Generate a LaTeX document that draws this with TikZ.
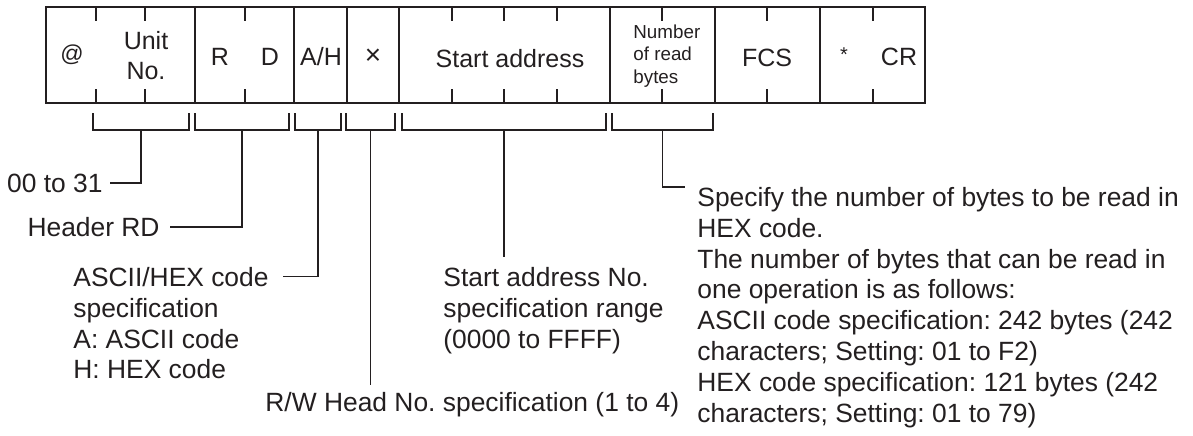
\documentclass[tikz,border=0pt]{standalone}
\usepackage{fontspec}
\setmainfont{Liberation Sans}
\definecolor{ink}{HTML}{231F20}
\frenchspacing

\begin{document}
\begin{tikzpicture}[x=0.5pt, y=-0.5pt, ink,
    frame/.style={line width=1pt, ink},
    lead/.style={line width=0.6pt, ink},
    cell/.style={font=\fontsize{12.5}{15}\selectfont, inner sep=0pt},
    lbl/.style={font=\fontsize{13.2}{15.4}\selectfont, align=left, inner sep=0pt}]
  \useasboundingbox (0,0) rectangle (1193,435);

  % frame with fields and character ticks
  \draw[frame] (46,7) rectangle (925,103);
  \foreach \x in {195,294,347,399,610,715,820}
    \draw[frame] (\x,7) -- (\x,103);
  \foreach \x in {96,145,245,452,504,557,662,767,873} {
    \draw[frame] (\x,7) -- (\x,21);
    \draw[frame] (\x,89) -- (\x,103);
  }

  \node[cell, font=\fontsize{11.5}{13}\selectfont] (at) at (72,55) {@};
  \node[cell, align=center] (unit) at (146,56) {Unit\\No.};
  \node[cell] (hdr r) at (220,57) {R};
  \node[cell] (hdr d) at (270,57) {D};
  \node[cell] (ah) at (321,57) {A/H};
  \node[cell, font=\fontsize{14}{16}\selectfont] (times) at (373,57) {×};
  \node[cell] (start) at (510,59) {Start address};
  \node[cell, font=\fontsize{9.4}{11.2}\selectfont, align=left, anchor=west]
    (nbytes) at (633,56) {Number\\of read\\bytes};
  \node[cell] (fcs) at (767,58) {FCS};
  \node[cell, font=\fontsize{10}{12}\selectfont] (star) at (844,55) {*};
  \node[cell] (cr) at (899,57) {CR};

  % brackets under the fields
  \foreach \a/\b/\n in {93/189/b1, 195/289/b2, 295/341/b3,
                        346/395/b4, 402/606/b5, 612/713/b6} {
    \draw[lead] (\a,113) |- (\b,130) -- (\b,113);
    \coordinate (\n) at ({(\a+\b)/2},130);
  }

  % descriptions
  \node[lbl, anchor=east] (unitno) at (103,183) {00 to 31};
  \node[lbl, anchor=east] (header) at (160,227) {Header RD};
  \node[lbl, anchor=north west] (ahcode) at (73,267)
    {ASCII/HEX code\\specification\\A: ASCII code\\H: HEX code};
  \node[lbl, anchor=north west] (saddr) at (443,267)
    {Start address No.\\specification range\\(0000 to FFFF)};
  \node[lbl, anchor=west] (rwhead) at (265,405)
    {R/W Head No. specification (1 to 4)};
  \node[lbl, anchor=north west] (nread) at (697,187)
    {Specify the number of bytes to be read in\\HEX code.\\
     The number of bytes that can be read in\\one operation is as follows:\\
     ASCII code specification: 242 bytes (242\\characters; Setting: 01 to F2)\\
     HEX code specification: 121 bytes (242\\characters; Setting: 01 to 79)};

  \draw[lead] (b1) |- ([xshift=3.5pt]unitno.east);
  \draw[lead] (b2) |- ([xshift=5pt]header.east);
  \draw[lead] (b3) |- ([xshift=7pt,yshift=-4.8pt]ahcode.north east);
  \draw[lead] (b4) -- ([yshift=3.5pt]rwhead.north -| b4);
  \draw[lead] (b5) -- ([yshift=5pt]saddr.north -| b5);
  \draw[lead] (b6) |- ([xshift=-6pt]nread.north west);
\end{tikzpicture}
\end{document}
